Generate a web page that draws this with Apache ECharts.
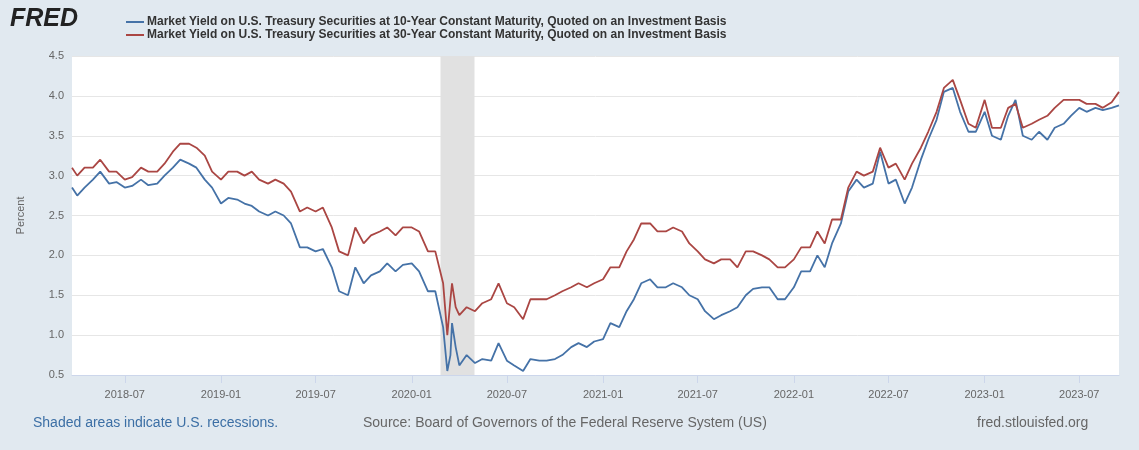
<!DOCTYPE html>
<html>
<head>
<meta charset="utf-8">
<script src="https://cdn.jsdelivr.net/npm/echarts@6/dist/echarts.min.js"></script>
<style>
html,body{margin:0;padding:0;background:#e1e9f0;}
#main{width:1139px;height:450px;}
</style>
</head>
<body>
<div id="main"></div>
<script>
// semi-monthly readings (1st and 15th), Apr 2018 .. Aug 2023
var startDate = '2018-03-22';
var start10 = 2.85, start30 = 3.1;
var y10 = [
    // 2018 Apr-Dec
    2.75,2.85, 2.95,3.05, 2.9,2.92, 2.85,2.87, 2.95,2.88, 2.9,3.0, 3.1,3.2, 3.15,3.1, 2.95,2.85,
    // 2019
    2.65,2.72, 2.7,2.65, 2.62,2.55, 2.5,2.55, 2.5,2.4, 2.1,2.1, 2.05,2.08, 1.85,1.55, 1.5,1.85, 1.65,1.75, 1.8,1.9, 1.8,1.88,
    // 2020
    1.9,1.8, 1.55,1.55, 1.1,0.75, 0.62,0.75, 0.65,0.7, 0.68,0.9, 0.68,0.62, 0.55,0.7, 0.68,0.68, 0.7,0.75, 0.85,0.9, 0.85,0.92,
    // 2021
    0.95,1.15, 1.1,1.3, 1.45,1.65, 1.7,1.6, 1.6,1.65, 1.6,1.5, 1.45,1.3, 1.2,1.25, 1.3,1.35, 1.5,1.58, 1.6,1.6, 1.45,1.45,
    // 2022
    1.6,1.8, 1.8,2.0, 1.85,2.15, 2.4,2.8, 2.95,2.85, 2.9,3.3, 2.9,2.95, 2.65,2.85, 3.2,3.45, 3.7,4.05, 4.1,3.8, 3.55,3.55,
    // 2023 Jan-Aug
    3.8,3.5, 3.45,3.75, 3.95,3.5, 3.45,3.55, 3.45,3.6, 3.65,3.75, 3.85,3.8, 3.85,3.82
];
var y30 = [
    3.0,3.1, 3.1,3.2, 3.05,3.05, 2.95,2.98, 3.1,3.05, 3.05,3.15, 3.3,3.4, 3.4,3.35, 3.25,3.05,
    2.95,3.05, 3.05,3.0, 3.05,2.95, 2.9,2.95, 2.9,2.8, 2.55,2.6, 2.55,2.6, 2.35,2.05, 2.0,2.35, 2.15,2.25, 2.3,2.35, 2.25,2.35,
    2.35,2.3, 2.05,2.05, 1.65,1.45, 1.25,1.35, 1.3,1.4, 1.45,1.65, 1.4,1.35, 1.2,1.45, 1.45,1.45, 1.5,1.55, 1.6,1.65, 1.6,1.65,
    1.7,1.85, 1.85,2.05, 2.2,2.4, 2.4,2.3, 2.3,2.35, 2.3,2.15, 2.05,1.95, 1.9,1.95, 1.95,1.85, 2.05,2.05, 2.0,1.95, 1.85,1.85,
    1.95,2.1, 2.1,2.3, 2.15,2.45, 2.45,2.85, 3.05,3.0, 3.05,3.35, 3.1,3.15, 2.95,3.15, 3.35,3.55, 3.8,4.1, 4.2,3.95, 3.65,3.6,
    3.95,3.6, 3.6,3.85, 3.9,3.6, 3.65,3.7, 3.75,3.85, 3.95,3.95, 3.95,3.9, 3.9,3.85
];
var endDates = ['2023-09-01', '2023-09-15'];
var end10 = [3.85, 3.88];
var end30 = [3.92, 4.05];
// March 2020 crash and spike
var extraDates = ['2020-03-09', '2020-03-18', '2020-03-25'];
var extra10 = [0.55, 1.15, 0.85];
var extra30 = [1.0, 1.65, 1.35];
var recessionStart = '2020-02-25', recessionEnd = '2020-04-30';

function pad(n){ return n < 10 ? '0' + n : '' + n; }
function buildSeries(startVal, vals, ends, extra) {
    var out = [[startDate, startVal]];
    var i = 0;
    for (var y = 2018; y <= 2023; y++) {
        for (var m = (y === 2018 ? 4 : 1); m <= 12 && i < vals.length; m++) {
            out.push([y + '-' + pad(m) + '-01', vals[i++]]);
            out.push([y + '-' + pad(m) + '-15', vals[i++]]);
        }
    }
    for (var k = 0; k < endDates.length; k++) out.push([endDates[k], ends[k]]);
    for (var j = 0; j < extraDates.length; j++) out.push([extraDates[j], extra[j]]);
    out.sort(function (a, b) { return new Date(a[0]) - new Date(b[0]); });
    return out;
}
var d10 = buildSeries(start10, y10, end10, extra10);
var d30 = buildSeries(start30, y30, end30, extra30);

var myChart = echarts.init(document.getElementById('main'));
var option = {
    backgroundColor: '#e1e9f0',
    animation: false,
    textStyle: {fontFamily: 'Arial, "Liberation Sans", sans-serif'},
    legend: {
        orient: 'vertical',
        left: 121,
        top: 11,
        itemGap: 1,
        itemWidth: 18,
        itemHeight: 2,
        icon: 'rect',
        textStyle: {fontSize: 12, fontWeight: 'bold', color: '#333', padding: [0, 0, 0, -2]},
        data: ['Market Yield on U.S. Treasury Securities at 10-Year Constant Maturity, Quoted on an Investment Basis',
               'Market Yield on U.S. Treasury Securities at 30-Year Constant Maturity, Quoted on an Investment Basis']
    },
    graphic: [
        {type: 'text', left: 10, top: 7, style: {text: 'FRED', font: 'italic bold 25px Arial', fill: '#222'}},
        {type: 'text', left: 33, top: 416, style: {text: 'Shaded areas indicate U.S. recessions.', font: '14px Arial', fill: '#3c6fa5'}},
        {type: 'text', left: 363, top: 416, style: {text: 'Source: Board of Governors of the Federal Reserve System (US)', font: '14px Arial', fill: '#666'}},
        {type: 'text', left: 977, top: 416, style: {text: 'fred.stlouisfed.org', font: '14px Arial', fill: '#666'}}
    ],
    grid: {left: 72, right: 20, top: 56, bottom: 75, backgroundColor: '#fff', show: true, borderWidth: 0},
    xAxis: {
        type: 'time',
        min: startDate,
        max: '2023-09-15',
        minInterval: 180 * 86400000,
        maxInterval: 184 * 86400000,
        axisLine: {show: true, lineStyle: {color: '#ccd6eb'}},
        axisTick: {show: true, length: 8, lineStyle: {color: '#ccd6eb'}},
        splitLine: {show: false},
        axisLabel: {color: '#666', fontSize: 11, formatter: '{yyyy}-{MM}', margin: 14}
    },
    yAxis: {
        type: 'value',
        min: 0.5,
        max: 4.5,
        interval: 0.5,
        name: 'Percent',
        nameLocation: 'middle',
        nameGap: 46,
        nameTextStyle: {color: '#666', fontSize: 11},
        axisLine: {show: false},
        axisTick: {show: false},
        splitLine: {lineStyle: {color: '#e6e6e6'}},
        axisLabel: {color: '#666', fontSize: 11, formatter: function (v) { return v.toFixed(1); }}
    },
    series: [
        {
            name: 'Market Yield on U.S. Treasury Securities at 10-Year Constant Maturity, Quoted on an Investment Basis',
            type: 'line', data: d10, showSymbol: false, color: '#4572a7',
            lineStyle: {width: 1.8},
            markArea: {silent: true, itemStyle: {color: '#e1e1e1'}, data: [[{xAxis: recessionStart}, {xAxis: recessionEnd}]]}
        },
        {
            name: 'Market Yield on U.S. Treasury Securities at 30-Year Constant Maturity, Quoted on an Investment Basis',
            type: 'line', data: d30, showSymbol: false, color: '#aa4643',
            lineStyle: {width: 1.8}
        }
    ]
};
myChart.setOption(option);
</script>
</body>
</html>
